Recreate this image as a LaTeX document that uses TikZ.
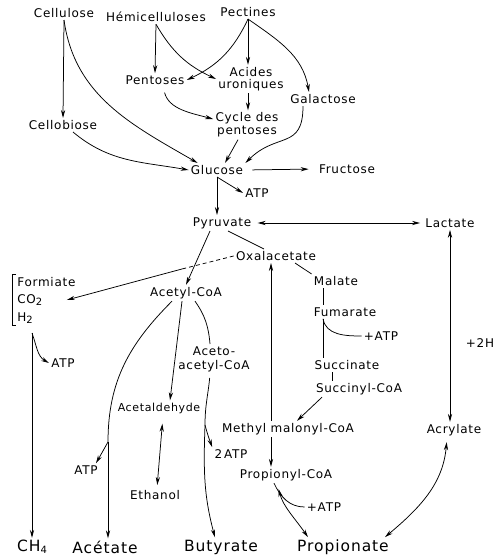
\documentclass[tikz,border=0pt]{standalone}
\usepackage{fontspec}
\setmainfont{DejaVu Sans}[LetterSpace=6]
\usepackage{tikz}
\usetikzlibrary{arrows.meta}
\newcommand{\lowr}[1]{\raisebox{-2pt}{\fontsize{10}{10}\selectfont #1}}

\begin{document}
\begin{tikzpicture}[x=1pt, y=1pt, line width=0.75pt, >={Stealth[length=8pt,width=4.2pt]},
    font=\fontsize{12}{14}\selectfont, every node/.style={inner sep=2pt},
    big/.style={font=\fontsize{15.5}{17}\selectfont},
    smaller/.style={font=\fontsize{11}{13}\selectfont}]
        \useasboundingbox (0,0) rectangle (495,-559);
        % Nodes
        \node (cel) at (64,-13) {Cellulose};
        \node (hemi) at (156,-17) {Hémicelluloses};
        \node (pec) at (248,-12) {Pectines};
        \node (pent) at (155,-80) {Pentoses};
        \node (acid) [align=center, font=\fontsize{12}{12}\selectfont] at (251,-79) {Acides\\uroniques};
        \node (gal) at (323,-99) {Galactose};
        \node (cbio) at (63,-125) {Cellobiose};
        \node (cyc) [align=center, font=\fontsize{12}{13}\selectfont] at (247,-125) {Cycle des\\pentoses};
        \node (glu) at (217,-170) {Glucose};
        \node (fru) at (347,-169) {Fructose};
        \node (atp1) at (257,-193) {ATP};
        \node (pyr) at (222,-223) {Pyruvate};
        \node (lac) at (450,-223) {Lactate};
        \node (oxa) at (276,-256) {Oxalacetate};
        \node (mal) at (336,-281) {Malate};
        \node (form) [anchor=west, align=left, inner xsep=5pt, font=\fontsize{12}{17.5}\selectfont] at (12,-300) {Formiate\\CO\lowr{2}\\H\lowr{2}};
        \node (acoa) at (186,-293) {Acetyl-CoA};
        \node (fum) at (345,-312) {Fumarate};
        \node (atp2) at (381,-336) {+ATP};
        \node (hh) at (480,-343) {+2H};
        \node (aaco) [align=center] at (214,-359) {Aceto-\\acetyl-CoA};
        \node (atp3) at (63,-363) {ATP};
        \node (succ) at (347,-365) {Succinate};
        \node (scoa) at (359,-389) {Succinyl-CoA};
        \node (ald) [smaller] at (159,-408) {Acetaldehyde};
        \node (mmc) at (288,-429) {Methyl malonyl-CoA};
        \node (acr) at (454,-430) {Acrylate};
        \node (atp4) at (231,-454) {2\,ATP};
        \node (atp5) at (86,-470) {ATP};
        \node (pcoa) at (286,-475) {Propionyl-CoA};
        \node (eth) at (155,-495) {Ethanol};
        \node (atp6) at (324,-507) {+ATP};
        \node (ch4) [big] at (32,-547) {CH\lowr{4}};
        \node (ace) [big] at (105,-547) {Acétate};
        \node (but) [big] at (221,-547) {Butyrate};
        \node (pro) [big] at (343,-547) {Propionate};
        \coordinate (fork) at (182,-269);
        \coordinate (hb) at (32,-333);
        \coordinate (acb) at (108,-442);
        \coordinate (bb) at (205,-425);

        % Edges
        \draw[->] (cel.south) -- (cbio.north);
        \draw[->] (cel.south) to[out=-82, in=150] (glu.160);
        \draw[->] ([xshift=10pt]cbio.south) to[out=-40, in=170] (glu.west);
        \draw[->] (hemi.south) -- (pent.north);
        \draw[->] (hemi.south) to[out=-60, in=155] (acid.west);
        \draw[->] (pec.south) to[out=-115, in=25] (pent.east);
        \draw[->] (pec.south) -- (pec.south |- acid.north);
        \draw[->] (pec.south) to[out=-35, in=100] ([xshift=-14pt]gal.north);
        \draw[->] (pec.south |- acid.south) -- (pec.south |- cyc.north);
        \draw[->, shorten <=6pt] ([xshift=8pt]pent.south) to[out=-75, in=165] (cyc.170);
        \draw[->] ([xshift=-9pt]cyc.south) -- ([xshift=8pt]glu.north);
        \draw[->] ([xshift=-20pt]gal.south) to[out=-90, in=45, looseness=1.4] (glu.north east);
        \draw[->, shorten <=7pt, shorten >=8pt] (glu.east) -- (fru.west);
        \draw[->] (glu.south) -- (glu.south |- pyr.north);
        \draw[->] (glu.south) -- (atp1.west);
        \draw[<->, shorten <=4pt, shorten >=3pt] (pyr.east) -- (lac.west);
        \draw ([xshift=6pt]pyr.south) -- ([xshift=-12pt]oxa.north);
        \draw[->] ([xshift=-12pt]pyr.south) -- (acoa.north);
        \draw[dashed, dash pattern=on 4pt off 3pt] (oxa.west) -- (fork);
        \draw[->] (fork) to[out=195, in=15] ([xshift=-14pt]form.east);
        \draw ([xshift=4pt]form.north west) -- (form.north west) -- (form.south west) -- ([xshift=4pt]form.south west);
        \draw[->] (hb) -- (ch4.north);
        \draw[->] (hb) to[out=-70, in=150] (atp3.west);
        \draw ([xshift=-14pt]acoa.south) to[out=-135, in=90] (acb);
        \draw[->] (acb) -- (acb |- ace.north);
        \draw[->] (acb) -- ([xshift=-4pt]atp5.north east);
        \draw[->] ([xshift=-4pt]acoa.south) -- ([xshift=11pt]ald.north);
        \draw[<->, shorten <=8pt, shorten >=3pt] ([xshift=4pt]ald.south) -- ([xshift=2pt]eth.north);
        \draw ([xshift=9pt]acoa.south) to[out=-55, in=95] ([xshift=-4pt]aaco.north);
        \draw[shorten <=4pt] ([xshift=-4pt]aaco.south) to[out=-95, in=90] (bb);
        \draw[->] (bb) to[out=-92, in=105] ([xshift=-6pt]but.north);
        \draw[->] (bb) to[out=-75, in=110] (atp4.north west);
        \draw ([xshift=19pt]oxa.south) -- (mal.north west);
        \draw ([xshift=-13pt]mal.south) -- ([xshift=-22pt]fum.north);
        \draw ([xshift=-22pt]fum.south) -- ([xshift=-24pt]succ.north);
        \draw ([xshift=-22pt]fum.south) to[out=-80, in=180] (atp2.west);
        \draw ([xshift=-15pt]succ.south) -- ([xshift=-27pt]scoa.north);
        \draw[->] ([xshift=-37pt]scoa.south) -- ([xshift=9pt]mmc.north);
        \draw[->] ([xshift=-17pt]mmc.north) -- ([xshift=-17pt]mmc.north |- oxa.south);
        \draw[->] ([xshift=-17pt]mmc.south) -- ([xshift=-17pt]mmc.south |- pcoa.north);
        \draw ([xshift=-12pt]pcoa.south) to[out=-65, in=180] (atp6.west);
        \draw[<->, shorten <=6pt] ([xshift=-9pt]pcoa.south) to[out=-75, in=125] ([xshift=-35pt]pro.north);
        \draw[<->, shorten <=4pt] ([xshift=-7pt]acr.south) to[out=-95, in=40] ([xshift=42pt]pro.north);
        \draw[<->] (lac.south) -- (lac.south |- acr.north);
    \end{tikzpicture}
\end{document}
